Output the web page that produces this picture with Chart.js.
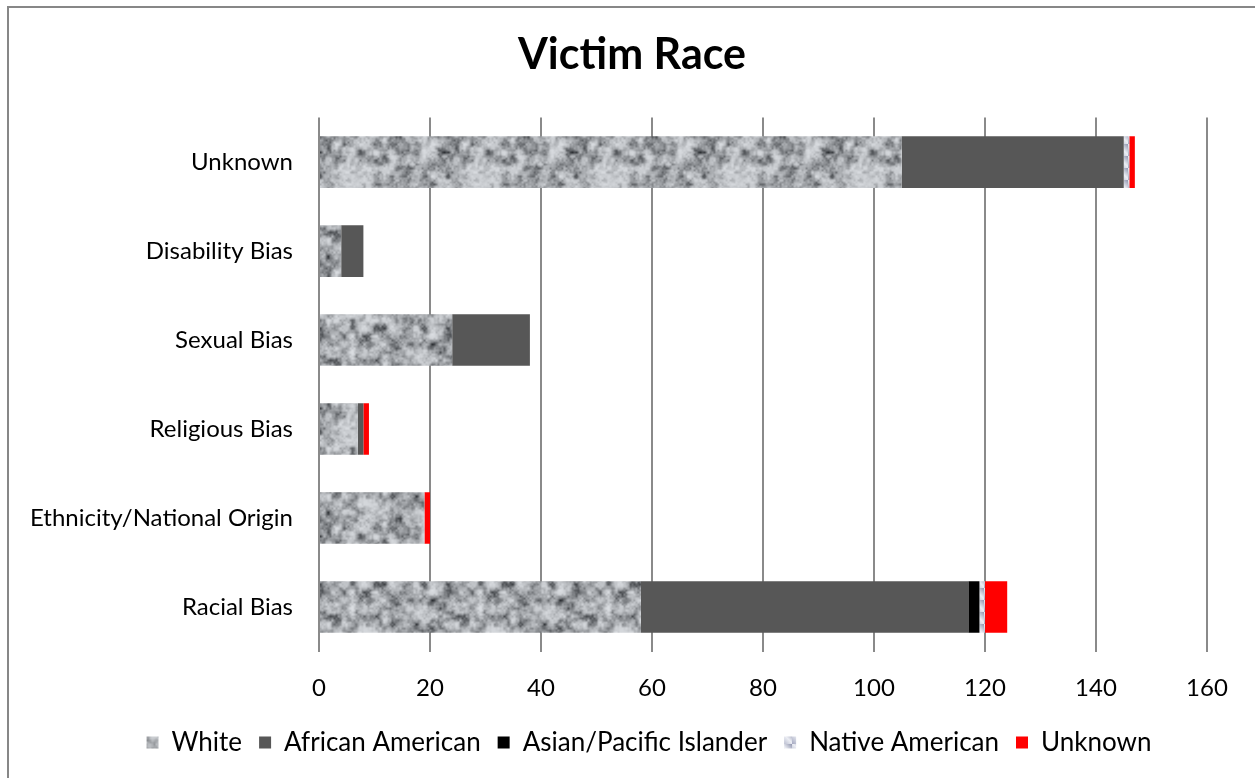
<!DOCTYPE html>
<html>
<head>
<meta charset="utf-8">
<title>Victim Race</title>
<script src="https://cdn.jsdelivr.net/npm/chart.js@4.4.1/dist/chart.umd.min.js"></script>
<style>
  body { margin: 0; background: #fff; overflow: hidden; }
  #wrap { position: relative; width: 1255px; height: 778px; }
  #frame {
    position: absolute; left: 7px; top: 6px; width: 1260px; height: 800px;
    border-left: 2px solid #878787; border-top: 2px solid #878787;
    pointer-events: none;
  }
</style>
</head>
<body>
<div id="wrap">
  <canvas id="chart" width="1255" height="778"></canvas>
  <div id="frame"></div>
</div>
<script>
// bias categories, top to bottom
const categories = ["Unknown", "Disability Bias", "Sexual Bias", "Religious Bias", "Ethnicity/National Origin", "Racial Bias"];

// victim counts per race
const white           = [105, 4, 24, 7, 19, 58];
const africanAmerican = [40, 4, 14, 1, 0, 59];
const asianPacific    = [0, 0, 0, 0, 0, 2];
const nativeAmerican  = [1, 0, 0, 0, 0, 1];
const unknownRace     = [1, 0, 0, 1, 1, 4];

const xTicks = [0, 20, 40, 60, 80, 100, 120, 140, 160];

// granite-like fill for the "White" series
function hash(x, y, seed) {
  let h = Math.imul(x, 374761393) + Math.imul(y, 668265263) + Math.imul(seed, 982451653);
  h = Math.imul(h ^ (h >>> 13), 1274126177);
  h = h ^ (h >>> 16);
  return (h >>> 0) / 4294967295;
}

function valueNoise(px, py, cell, period, seed) {
  const gx = px / cell, gy = py / cell;
  const x0 = Math.floor(gx), y0 = Math.floor(gy);
  const fx = gx - x0, fy = gy - y0;
  const sx = fx * fx * (3 - 2 * fx), sy = fy * fy * (3 - 2 * fy);
  const w = (v) => ((v % period) + period) % period;
  const a = hash(w(x0), w(y0), seed), b = hash(w(x0 + 1), w(y0), seed);
  const c = hash(w(x0), w(y0 + 1), seed), d = hash(w(x0 + 1), w(y0 + 1), seed);
  return (a * (1 - sx) + b * sx) * (1 - sy) + (c * (1 - sx) + d * sx) * sy;
}

function granitePattern() {
  const size = 128;
  const cv = document.createElement("canvas");
  cv.width = size; cv.height = size;
  const g = cv.getContext("2d");
  const img = g.createImageData(size, size);
  for (let y = 0; y < size; y++) {
    for (let x = 0; x < size; x++) {
      const v = 0.5 * valueNoise(x, y, 8, 16, 1) +
                0.3 * valueNoise(x, y, 4, 32, 2) +
                0.2 * valueNoise(x, y, 2, 64, 3);
      const lum = 222 - 185 * Math.pow(1 - v, 1.8);
      const i = (y * size + x) * 4;
      img.data[i] = lum - 3;
      img.data[i + 1] = lum;
      img.data[i + 2] = lum + 4;
      img.data[i + 3] = 255;
    }
  }
  g.putImageData(img, 0, 0);
  return g.createPattern(cv, "repeat");
}

// shaded diagonal fill for "Native American"
function diagonalPattern() {
  const size = 12;
  const cv = document.createElement("canvas");
  cv.width = size; cv.height = size;
  const g = cv.getContext("2d");
  const grad = g.createLinearGradient(size, 0, 0, size);
  grad.addColorStop(0, "#8f94ad");
  grad.addColorStop(0.45, "#eceef4");
  grad.addColorStop(1, "#a4a8c0");
  g.fillStyle = grad;
  g.fillRect(0, 0, size, size);
  return g.createPattern(cv, "repeat");
}

// centre the title over the framed area and nudge the legend right
const placeBlocks = {
  id: "placeBlocks",
  afterLayout(chart) {
    const t = chart.titleBlock;
    t.left = 9;
    t.right = 1255;
    t.width = t.right - t.left;
    const l = chart.legend;
    const shift = 649 - (l.left + l.right) / 2;
    l.left += shift;
    l.right += shift;
  },
};

Chart.defaults.font.family = "Lato, 'Open Sans', sans-serif";
Chart.defaults.color = "#000";

const data = {
  labels: categories,
  datasets: [
    { label: "White", data: white, backgroundColor: granitePattern() },
    { label: "African American", data: africanAmerican, backgroundColor: "#575757" },
    { label: "Asian/Pacific Islander", data: asianPacific, backgroundColor: "#000000" },
    { label: "Native American", data: nativeAmerican, backgroundColor: diagonalPattern() },
    { label: "Unknown", data: unknownRace, backgroundColor: "#ff0000" },
  ],
};

const config = {
  type: "bar",
  data,
  options: {
    indexAxis: "y",
    responsive: false,
    animation: false,
    layout: { padding: { left: 0, right: 48, top: 0, bottom: 12.5 } },
    datasets: { bar: { barPercentage: 0.58, categoryPercentage: 1, borderWidth: 0 } },
    plugins: {
      title: {
        display: true,
        text: "Victim Race",
        font: { size: 43, weight: "bold" },
        color: "#000",
        padding: { top: 29, bottom: 37 },
      },
      legend: {
        position: "bottom",
        labels: { boxWidth: 12, boxHeight: 12, padding: 17, font: { size: 26 }, color: "#000" },
      },
      tooltip: { enabled: false },
    },
    scales: {
      x: {
        stacked: true,
        min: 0,
        max: 160,
        afterBuildTicks: (scale) => { scale.ticks = xTicks.map((v) => ({ value: v })); },
        ticks: { font: { size: 24 }, color: "#000", padding: 22 },
        grid: { color: "#8a8a8a", lineWidth: 2, drawTicks: false },
        border: { display: false },
        afterFit: (scale) => { scale.height = 61; },
      },
      y: {
        stacked: true,
        ticks: { font: { size: 24 }, color: "#000", padding: 26 },
        grid: { display: false, drawTicks: false },
        border: { display: false },
        afterFit: (scale) => { scale.width = 319; },
      },
    },
  },
  plugins: [placeBlocks],
};

const victimChart = new Chart(document.getElementById("chart"), config);
</script>
</body>
</html>
